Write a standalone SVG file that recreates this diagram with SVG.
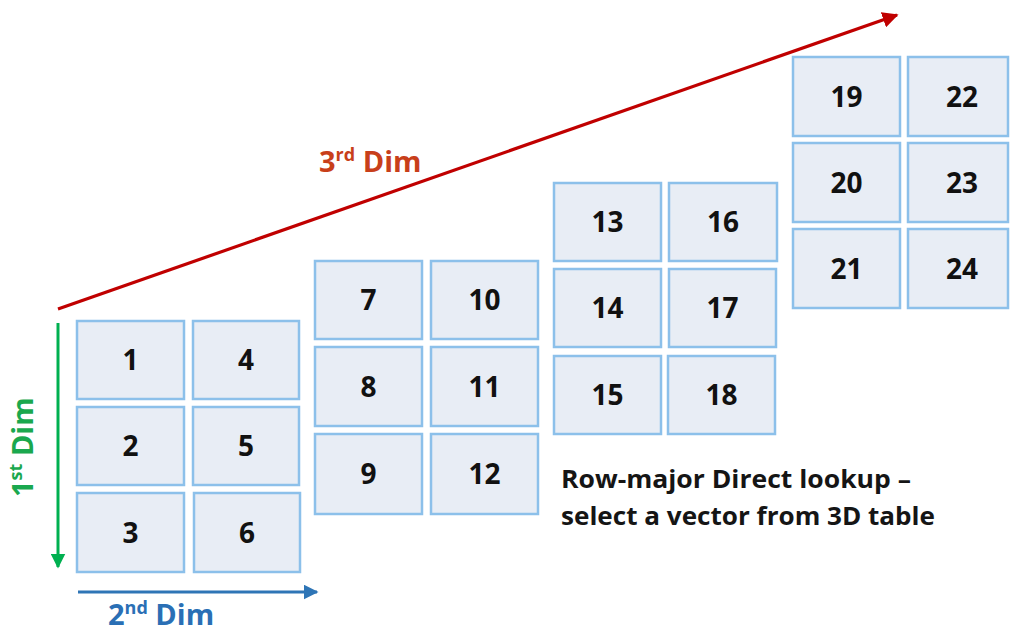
<svg xmlns="http://www.w3.org/2000/svg" width="1010" height="633" viewBox="0 0 1010 633">
<defs>
<style>
.box{fill:#e8edf5;stroke:#8cc0ea;stroke-width:2.5}
.num{font-family:"Open Sans","Liberation Sans",sans-serif;font-weight:700;font-size:28px;fill:#111;text-anchor:middle}
.lbl{font-family:"Open Sans","Liberation Sans",sans-serif;font-weight:700;font-size:29px}
.desc{font-family:"Open Sans","Liberation Sans",sans-serif;font-weight:700;font-size:24.5px;fill:#151515}
</style>
<marker id="mr" viewBox="0 0 10 10" refX="9" refY="5" markerWidth="5" markerHeight="5" orient="auto" markerUnits="strokeWidth"><path d="M0,0 L10,5 L0,10 z" fill="#c00000"/></marker>
<marker id="mg" viewBox="0 0 10 10" refX="9" refY="5" markerWidth="5" markerHeight="5" orient="auto" markerUnits="strokeWidth"><path d="M0,0 L10,5 L0,10 z" fill="#00b050"/></marker>
<marker id="mb" viewBox="0 0 10 10" refX="9" refY="5" markerWidth="5" markerHeight="5" orient="auto" markerUnits="strokeWidth"><path d="M0,0 L10,5 L0,10 z" fill="#2e75b6"/></marker>
</defs>
<rect width="1010" height="633" fill="#ffffff"/>
<g id="connectors">
<line x1="58" y1="309" x2="897" y2="15" stroke="#c00000" stroke-width="3.2" marker-end="url(#mr)"/>
<line x1="58" y1="323" x2="58" y2="567" stroke="#00b050" stroke-width="3" marker-end="url(#mg)"/>
<line x1="78" y1="592" x2="317" y2="592" stroke="#2e75b6" stroke-width="3" marker-end="url(#mb)"/>
</g>
<g id="n1"><rect class="box" x="77" y="321" width="107" height="78"/><text class="num" x="130.5" y="370">1</text></g>
<g id="n2"><rect class="box" x="77" y="407" width="107" height="78"/><text class="num" x="130.5" y="456">2</text></g>
<g id="n3"><rect class="box" x="77" y="493" width="107" height="79"/><text class="num" x="130.5" y="543">3</text></g>
<g id="n4"><rect class="box" x="193" y="321" width="106" height="78"/><text class="num" x="246" y="370">4</text></g>
<g id="n5"><rect class="box" x="193" y="407" width="106" height="78"/><text class="num" x="246" y="456">5</text></g>
<g id="n6"><rect class="box" x="194" y="493" width="106" height="79"/><text class="num" x="247" y="543">6</text></g>
<g id="n7"><rect class="box" x="315" y="261" width="107" height="78"/><text class="num" x="368.5" y="310">7</text></g>
<g id="n8"><rect class="box" x="315" y="347" width="107" height="79"/><text class="num" x="368.5" y="397">8</text></g>
<g id="n9"><rect class="box" x="315" y="434" width="107" height="80"/><text class="num" x="368.5" y="484">9</text></g>
<g id="n10"><rect class="box" x="431" y="261" width="107" height="78"/><text class="num" x="484.5" y="310">10</text></g>
<g id="n11"><rect class="box" x="431" y="347" width="107" height="79"/><text class="num" x="484.5" y="397">11</text></g>
<g id="n12"><rect class="box" x="431" y="434" width="107" height="80"/><text class="num" x="484.5" y="484">12</text></g>
<g id="n13"><rect class="box" x="554" y="183" width="107" height="78"/><text class="num" x="607.5" y="232">13</text></g>
<g id="n14"><rect class="box" x="554" y="269" width="107" height="78"/><text class="num" x="607.5" y="318">14</text></g>
<g id="n15"><rect class="box" x="554" y="356" width="107" height="78"/><text class="num" x="607.5" y="405">15</text></g>
<g id="n16"><rect class="box" x="669" y="183" width="108" height="78"/><text class="num" x="723" y="232">16</text></g>
<g id="n17"><rect class="box" x="669" y="269" width="107" height="78"/><text class="num" x="722.5" y="318">17</text></g>
<g id="n18"><rect class="box" x="668" y="356" width="107" height="78"/><text class="num" x="721.5" y="405">18</text></g>
<g id="n19"><rect class="box" x="793" y="57" width="107" height="79"/><text class="num" x="846.5" y="107">19</text></g>
<g id="n20"><rect class="box" x="793" y="143" width="107" height="79"/><text class="num" x="846.5" y="193">20</text></g>
<g id="n21"><rect class="box" x="793" y="229" width="107" height="79"/><text class="num" x="846.5" y="279">21</text></g>
<g id="n22"><rect class="box" x="908" y="57" width="100" height="79"/><text class="num" x="962" y="107">22</text></g>
<g id="n23"><rect class="box" x="908" y="143" width="100" height="79"/><text class="num" x="962" y="193">23</text></g>
<g id="n24"><rect class="box" x="908" y="229" width="100" height="79"/><text class="num" x="962" y="279">24</text></g>
<g id="labels">
<text class="lbl" x="319" y="172" fill="#c83f1a">3<tspan font-size="18" dy="-11">rd</tspan><tspan dy="11"> Dim</tspan></text>
<text class="lbl" transform="translate(33,497) rotate(-90)" fill="#1aa84e">1<tspan font-size="18" dy="-11">st</tspan><tspan dy="11"> Dim</tspan></text>
<text class="lbl" x="108" y="625" fill="#2a6fb5">2<tspan font-size="18" dy="-11">nd</tspan><tspan dy="11"> Dim</tspan></text>
<text class="desc" x="561" y="488" textLength="350" lengthAdjust="spacingAndGlyphs">Row-major Direct lookup –</text>
<text class="desc" x="561" y="525" textLength="374" lengthAdjust="spacingAndGlyphs">select a vector from 3D table</text>
</g>
</svg>
